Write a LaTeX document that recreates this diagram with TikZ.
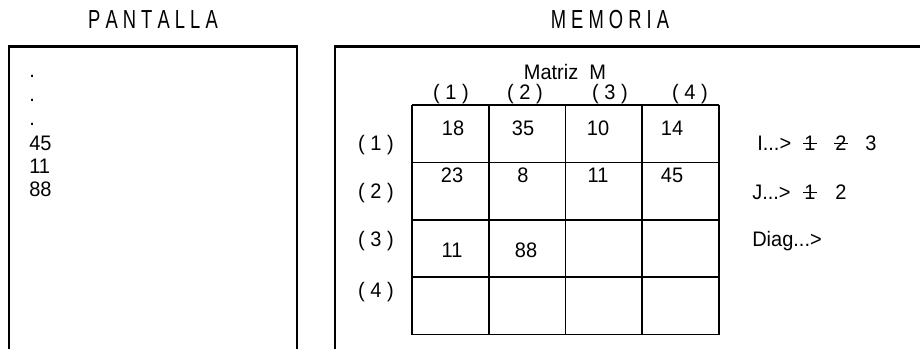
\documentclass[tikz,border=0pt]{standalone}
\usepackage{fontspec}
\setmainfont{Liberation Sans}
\newcommand\vst[1]{\scalebox{1}[1.05]{#1}}
\newcommand\vtt[1]{\scalebox{0.95}[1.35]{#1}}
\begin{document}
\begin{tikzpicture}[x=0.75pt,y=-0.75pt,
  panel/.style={line width=1.6pt},
  gridline/.style={line width=1.3pt},
  txt/.style={inner sep=0pt,font=\fontsize{15}{18}\selectfont},
  title/.style={inner sep=0pt,font=\fontsize{14.5}{17}\selectfont},
  strike/.style={line width=0.7pt}]
\useasboundingbox (0,0) rectangle (920,349);
% titles
\node[title] (tp) at (153,20) {\vtt{P A N T A L L A}};
\node[title] (tm) at (610,20) {\vtt{M E M O R I A}};
% panels (open at the bottom)
\draw[panel] (9,349) -- (9,46.5) -- (297,46.5) -- (297,349);
\draw[panel] (335,349) -- (335,46.5) -- (920,46.5);
% screen lines
\node[txt,anchor=base west] (s1) at (29,78) {\vst{.}};
\node[txt,anchor=base west] (s2) at (29,102) {\vst{.}};
\node[txt,anchor=base west] (s3) at (29,126) {\vst{.}};
\node[txt,anchor=base west] (s4) at (29,151) {\vst{45}};
\node[txt,anchor=base west] (s5) at (29,173) {\vst{11}};
\node[txt,anchor=base west] (s6) at (29,196) {\vst{88}};
% matrix grid
\foreach \i in {0,...,4} {
  \draw[gridline] ({412+76.75*\i},105) -- ({412+76.75*\i},334.6);
  \draw[gridline] (412,{105+57.4*\i}) -- (719,{105+57.4*\i});
}
\node[txt] (mt) at (565,72) {\vst{Matriz\ \ M}};
\node[txt] (c1) at (451,94) {\vst{( 1 )}};
\node[txt] (c2) at (525,94) {\vst{( 2 )}};
\node[txt] (c3) at (610,94) {\vst{( 3 )}};
\node[txt] (c4) at (690,94) {\vst{( 4 )}};
\node[txt] (r1) at (376,145) {\vst{( 1 )}};
\node[txt] (r2) at (376,193) {\vst{( 2 )}};
\node[txt] (r3) at (376,241) {\vst{( 3 )}};
\node[txt] (r4) at (376,292) {\vst{( 4 )}};
% cell values
\node[txt] (m11) at (453,128) {\vst{18}};
\node[txt] (m12) at (523,128) {\vst{35}};
\node[txt] (m13) at (598,128) {\vst{10}};
\node[txt] (m14) at (672,128) {\vst{14}};
\node[txt] (m21) at (452,175) {\vst{23}};
\node[txt] (m22) at (523,175) {\vst{8}};
\node[txt] (m23) at (598,175) {\vst{11}};
\node[txt] (m24) at (672,175) {\vst{45}};
\node[txt] (m31) at (452,250) {\vst{11}};
\node[txt] (m32) at (526,250) {\vst{88}};
% variables
\node[txt,anchor=west] (vi) at (757,143) {\vst{I...>}};
\node[txt] (i1) at (810,143) {\vst{1}};
\node[txt] (i2) at (841,143) {\vst{2}};
\node[txt] (i3) at (871,143) {\vst{3}};
\draw[strike] ([xshift=-1pt]i1.west) -- ([xshift=1pt]i1.east);
\draw[strike] ([xshift=-1pt]i2.west) -- ([xshift=1pt]i2.east);
\node[txt,anchor=west] (vj) at (752,192) {\vst{J...>}};
\node[txt] (j1) at (810,192) {\vst{1}};
\node[txt] (j2) at (841,192) {\vst{2}};
\draw[strike] ([xshift=-1pt]j1.west) -- ([xshift=1pt]j1.east);
\node[txt,anchor=west] (vd) at (752,241) {\vst{Diag...>}};
\end{tikzpicture}
\end{document}
